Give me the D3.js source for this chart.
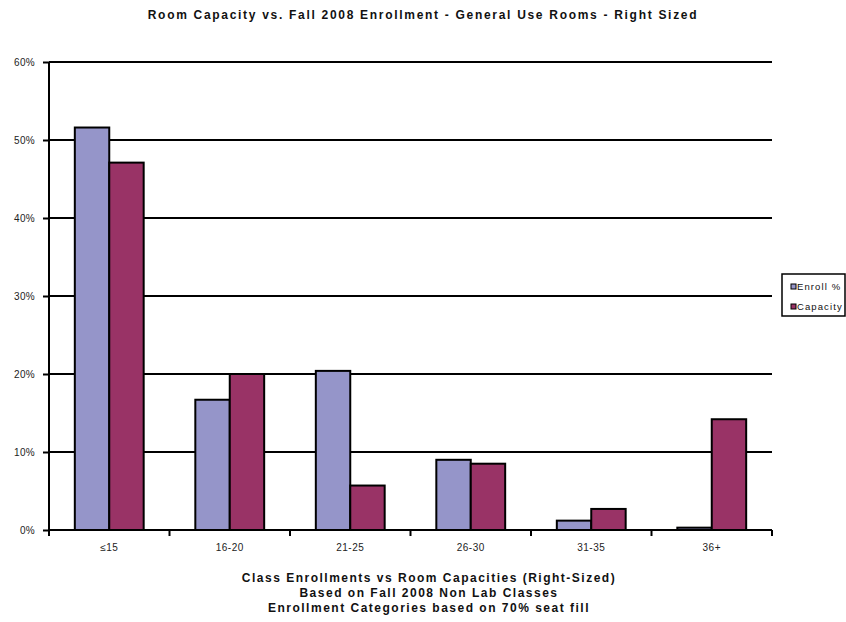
<!DOCTYPE html>
<html>
<head>
<meta charset="utf-8">
<script src="https://cdn.jsdelivr.net/npm/d3@7"></script>
<style>
  body { margin: 0; background: #fff; }
  svg { display: block; font-family: "Liberation Sans", Arial, sans-serif; }
</style>
</head>
<body>
<div id="chart"></div>
<script>
// chart values
var categories = ['\u226415', '16-20', '21-25', '26-30', '31-35', '36+'],
    seriesNames = ['Enroll %', 'Capacity'],
    enrollPct = [51.6, 16.7, 20.4, 9.0, 1.2, 0.3],
    capacityPct = [47.1, 20.0, 5.7, 8.5, 2.7, 14.2],
    yTicks = [0, 10, 20, 30, 40, 50, 60],
    titleText = 'Room Capacity vs. Fall 2008 Enrollment - General Use Rooms - Right Sized',
    xTitleLines = [
        'Class Enrollments vs Room Capacities (Right-Sized)',
        'Based on Fall 2008 Non Lab Classes',
        'Enrollment Categories based on 70% seat fill'
    ],
    colors = ['#9595c9', '#993366'];

var W = 846, H = 622,
    plot = {left: 49, right: 772, top: 62, bottom: 530};

var svg = d3.select('#chart').append('svg')
    .attr('width', W)
    .attr('height', H);

var x = d3.scaleBand()
    .domain(categories)
    .range([plot.left, plot.right])
    .paddingInner(0)
    .paddingOuter(0);

// two bars per group, excel style gap width 150%
var barW = x.bandwidth() / 3.5;
var xs = d3.scaleBand()
    .domain(seriesNames)
    .range([barW * 0.75, barW * 2.75]);

var y = d3.scaleLinear()
    .domain([0, 60])
    .range([plot.bottom, plot.top]);

// gridlines
svg.append('g')
    .selectAll('line')
    .data(yTicks.filter(function (d) { return d > 0; }))
    .enter().append('line')
    .attr('x1', plot.left)
    .attr('x2', plot.right)
    .attr('y1', function (d) { return y(d); })
    .attr('y2', function (d) { return y(d); })
    .attr('stroke', '#000')
    .attr('stroke-width', 2);

// bars
var rows = categories.map(function (c, i) {
    return {cat: c, vals: [enrollPct[i], capacityPct[i]]};
});

var groups = svg.append('g')
    .selectAll('g')
    .data(rows)
    .enter().append('g')
    .attr('transform', function (d) { return 'translate(' + x(d.cat) + ',0)'; });

groups.selectAll('rect')
    .data(function (d) {
        return d.vals.map(function (v, j) { return {name: seriesNames[j], v: v, j: j}; });
    })
    .enter().append('rect')
    .attr('x', function (d) { return xs(d.name); })
    .attr('width', xs.bandwidth())
    .attr('y', function (d) { return y(d.v); })
    .attr('height', function (d) { return y(0) - y(d.v); })
    .attr('fill', function (d) { return colors[d.j]; })
    .attr('stroke', '#000')
    .attr('stroke-width', 2);

// y axis
var yAxis = svg.append('g')
    .attr('transform', 'translate(' + plot.left + ',0)')
    .call(d3.axisLeft(y)
        .tickValues(yTicks)
        .tickSize(6)
        .tickPadding(8)
        .tickFormat(function (d) { return d + '%'; }));
yAxis.select('.domain').attr('stroke-width', 2).attr('d', 'M0,' + plot.top + 'V' + plot.bottom);
yAxis.selectAll('.tick line').attr('stroke-width', 2);
yAxis.selectAll('.tick text')
    .attr('font-size', 10)
    .attr('fill', '#222')
    .style('letter-spacing', '0.3px');

// x axis
var xAxis = svg.append('g')
    .attr('transform', 'translate(0,' + plot.bottom + ')')
    .call(d3.axisBottom(x).tickSize(0).tickPadding(14));
xAxis.select('.domain').attr('stroke-width', 2).attr('d', 'M' + plot.left + ',0H' + plot.right);
xAxis.selectAll('.tick text')
    .attr('font-size', 10)
    .attr('fill', '#222')
    .style('letter-spacing', '0.5px');
// separators between categories
xAxis.append('g')
    .selectAll('line')
    .data(categories.concat(['end']))
    .enter().append('line')
    .attr('x1', function (d, i) { return plot.left + i * x.step(); })
    .attr('x2', function (d, i) { return plot.left + i * x.step(); })
    .attr('y1', 0)
    .attr('y2', 6)
    .attr('stroke', '#000')
    .attr('stroke-width', 2);

// title
svg.append('text')
    .attr('x', 423)
    .attr('y', 19)
    .attr('text-anchor', 'middle')
    .attr('font-size', 12)
    .attr('font-weight', 'bold')
    .attr('fill', '#111')
    .style('letter-spacing', '1.7px')
    .text(titleText);

// x axis title
svg.append('g')
    .selectAll('text')
    .data(xTitleLines)
    .enter().append('text')
    .attr('x', 429)
    .attr('y', function (d, i) { return 582 + i * 15; })
    .attr('text-anchor', 'middle')
    .attr('font-size', 12)
    .attr('font-weight', 'bold')
    .attr('fill', '#111')
    .style('letter-spacing', '1.5px')
    .text(function (d) { return d; });

// legend
var legend = svg.append('g').attr('transform', 'translate(782,274)');
legend.append('rect')
    .attr('x', 0).attr('y', 0)
    .attr('width', 63).attr('height', 42)
    .attr('fill', '#fff')
    .attr('stroke', '#000')
    .attr('stroke-width', 1.5);
var items = legend.selectAll('g.item')
    .data(seriesNames)
    .enter().append('g')
    .attr('class', 'item')
    .attr('transform', function (d, i) { return 'translate(9,' + (10 + i * 20) + ')'; });
items.append('rect')
    .attr('width', 5).attr('height', 5)
    .attr('fill', function (d, i) { return colors[i]; })
    .attr('stroke', '#000')
    .attr('stroke-width', 1);
items.append('text')
    .attr('x', 6)
    .attr('y', 6)
    .attr('font-size', 9.5)
    .attr('fill', '#111')
    .style('letter-spacing', '1.1px')
    .text(function (d) { return d; });
</script>
</body>
</html>
